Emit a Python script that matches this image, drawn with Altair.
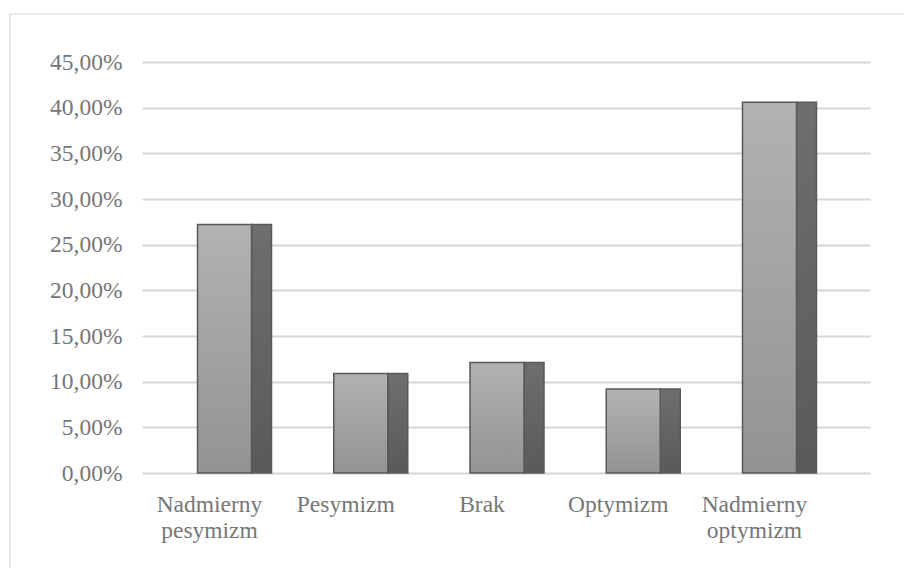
import altair as alt
import pandas as pd

# Answer shares (percent of respondents)
categories = ["Nadmierny\npesymizm", "Pesymizm", "Brak", "Optymizm", "Nadmierny\noptymizm"]
shares = [27.2, 10.9, 12.1, 9.2, 40.6]
y_ticks = [0, 5, 10, 15, 20, 25, 30, 35, 40, 45]

df = pd.DataFrame({"kategoria": categories, "udzial": shares})

FONT = "Liberation Serif"
TEXT_GRAY = "#767676"

x_enc = alt.X(
    "kategoria:N",
    sort=categories,
    axis=None,
    scale=alt.Scale(paddingInner=0, paddingOuter=0.1716, align=0.3075),
)
y_enc = alt.Y(
    "udzial:Q",
    scale=alt.Scale(domain=[0, 45], nice=False),
    axis=alt.Axis(
        values=y_ticks,
        labelExpr="replace(format(datum.value, '.2f'), '.', ',') + '%'",
        title=None,
        domain=False,
        ticks=False,
        labelPadding=20,
        labelFont=FONT,
        labelFontSize=23.5,
        labelColor=TEXT_GRAY,
        grid=True,
        gridColor="#d6d6d6",
        gridWidth=1.8,
    ),
)

base = alt.Chart(df)

# front face of each column
front = base.mark_bar(
    size=54,
    stroke="#595959",
    strokeWidth=1.5,
    color=alt.Gradient(
        gradient="linear",
        stops=[
            alt.GradientStop(color="#b2b2b2", offset=0),
            alt.GradientStop(color="#939393", offset=1),
        ],
        x1=0, x2=0, y1=0, y2=1,
    ),
).encode(x=x_enc, y=y_enc)

# darker side face giving the columns depth
side = base.mark_bar(
    size=20,
    xOffset=37,
    stroke="#595959",
    strokeWidth=1.5,
    color=alt.Gradient(
        gradient="linear",
        stops=[
            alt.GradientStop(color="#6e6e6e", offset=0),
            alt.GradientStop(color="#5a5a5a", offset=1),
        ],
        x1=0, x2=0, y1=0, y2=1,
    ),
).encode(x=x_enc, y="udzial:Q")

labels = base.mark_text(
    font=FONT,
    fontSize=23.5,
    color=TEXT_GRAY,
    lineBreak="\n",
    lineHeight=26,
    baseline="top",
    align="center",
    dx=-15,
).encode(x=x_enc, y=alt.value(431), text="kategoria:N")

frame = alt.Chart(alt.Data(values=[{}])).mark_rect(
    fill="transparent", stroke="#d9d9d9", strokeWidth=1.2
).encode(
    x=alt.value(-132), x2=alt.value(1200),
    y=alt.value(-48), y2=alt.value(1200),
)

chart = alt.layer(frame, side, front, labels).properties(
    width=728,
    height=411,
    autosize=alt.AutoSizeParams(type="none"),
    padding={"left": 142, "top": 62, "right": 34, "bottom": 95},
    background="white",
).configure_view(stroke=None)

chart.save("out.html", embed_options={"renderer": "svg", "actions": False})
